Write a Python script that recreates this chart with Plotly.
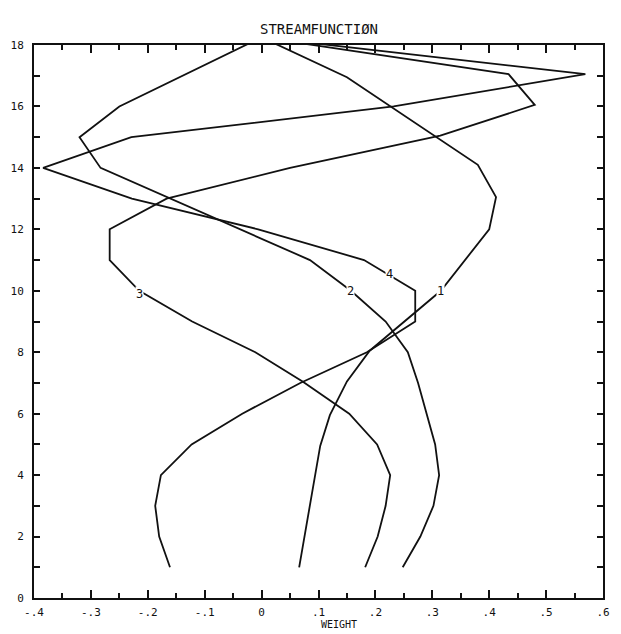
import plotly.graph_objects as go

# Curve data (x = weight, y = level)
y1 = [18.25, 16.95, 14.1, 13.05, 12.0, 10.0, 8.05, 7.05, 5.95, 4.95, 1.0]
x1 = [0.0, 0.15, 0.38, 0.412, 0.40, 0.315, 0.19, 0.15, 0.12, 0.103, 0.066]

y2 = [18.25, 16, 15, 14, 11, 10, 9, 8, 7, 6, 5, 4, 3, 2, 1]
x2 = [0.0, -0.25, -0.32, -0.283, 0.085, 0.157, 0.218, 0.257, 0.275, 0.29, 0.305, 0.312, 0.302, 0.279, 0.248]

y3 = [18.25, 17.05, 16.05, 15.05, 14, 13, 12, 11, 10, 9, 8, 7.05, 6, 5, 4, 3, 2, 1]
x3 = [0.0, 0.434, 0.48, 0.314, 0.05, -0.167, -0.267, -0.267, -0.215, -0.122, -0.011, 0.072, 0.154, 0.203, 0.226, 0.218, 0.204, 0.182]

y4 = [18.25, 17.05, 16, 15, 14, 13, 12, 11, 10, 9, 8, 7, 6, 5, 4, 3, 2, 1]
x4 = [0.0, 0.569, 0.232, -0.229, -0.384, -0.228, -0.006, 0.18, 0.27, 0.27, 0.185, 0.068, -0.034, -0.123, -0.177, -0.187, -0.18, -0.161]

curve_names = ["1", "2", "3", "4"]
label_x = [0.315, 0.157, -0.215, 0.225]
label_y = [10.0, 10.0, 9.9, 10.55]

x_tickvals = [-0.4, -0.3, -0.2, -0.1, 0.0, 0.1, 0.2, 0.3, 0.4, 0.5, 0.6]
x_ticktext = ["-.4", "-.3", "-.2", "-.1", "0", ".1", ".2", ".3", ".4", ".5", ".6"]
y_tickvals = [0, 2, 4, 6, 8, 10, 12, 14, 16, 18]
y_ticktext = ["0", "2", "4", "6", "8", "10", "12", "14", "16", "18"]

FONT = "DejaVu Sans Mono"

fig = go.Figure()
for xs, ys, name in zip([x1, x2, x3, x4], [y1, y2, y3, y4], curve_names):
    fig.add_trace(go.Scatter(x=xs, y=ys, mode="lines", name=name,
                             line=dict(color="#111111", width=1.8),
                             showlegend=False, hoverinfo="skip"))

for lx, ly, name in zip(label_x, label_y, curve_names):
    fig.add_annotation(x=lx, y=ly, text=name, showarrow=False,
                       font=dict(family=FONT, size=12, color="#111111"),
                       bgcolor="white", borderpad=0)

fig.add_annotation(xref="paper", yref="paper", x=0.5, y=1.0, yshift=26,
                   text="STREAMFUNCTIØN", showarrow=False,
                   font=dict(family=FONT, size=14, color="#111111"))
fig.add_annotation(xref="paper", yref="paper", x=0.5, y=0.0, yshift=-34,
                   xshift=20, yanchor="bottom",
                   text="WEIGHT", showarrow=False,
                   font=dict(family=FONT, size=10, color="#111111"))

fig.update_xaxes(range=[-0.4, 0.6], tickvals=x_tickvals, ticktext=x_ticktext,
                 ticks="inside", ticklen=8, tickwidth=1.5, tickcolor="#111111",
                 minor=dict(ticks="inside", dtick=0.05, ticklen=5, tickwidth=1.5,
                            tickcolor="#111111", showgrid=False),
                 showline=True, linewidth=2, linecolor="#111111", mirror="ticks",
                 showgrid=False, zeroline=False, ticklabelstandoff=3,
                 tickfont=dict(family=FONT, size=11, color="#111111"))
fig.update_yaxes(range=[0, 18], tickvals=y_tickvals, ticktext=y_ticktext,
                 ticks="inside", ticklen=6, tickwidth=1.5, tickcolor="#111111",
                 minor=dict(ticks="inside", dtick=1, ticklen=6, tickwidth=1.5,
                            tickcolor="#111111", showgrid=False),
                 showline=True, linewidth=2, linecolor="#111111", mirror="ticks",
                 showgrid=False, zeroline=False, ticklabelstandoff=6,
                 tickfont=dict(family=FONT, size=11, color="#111111"))

fig.update_layout(width=621, height=634,
                  margin=dict(l=32, r=11, t=45, b=36),
                  plot_bgcolor="white", paper_bgcolor="white")

fig.write_html("out.html")
